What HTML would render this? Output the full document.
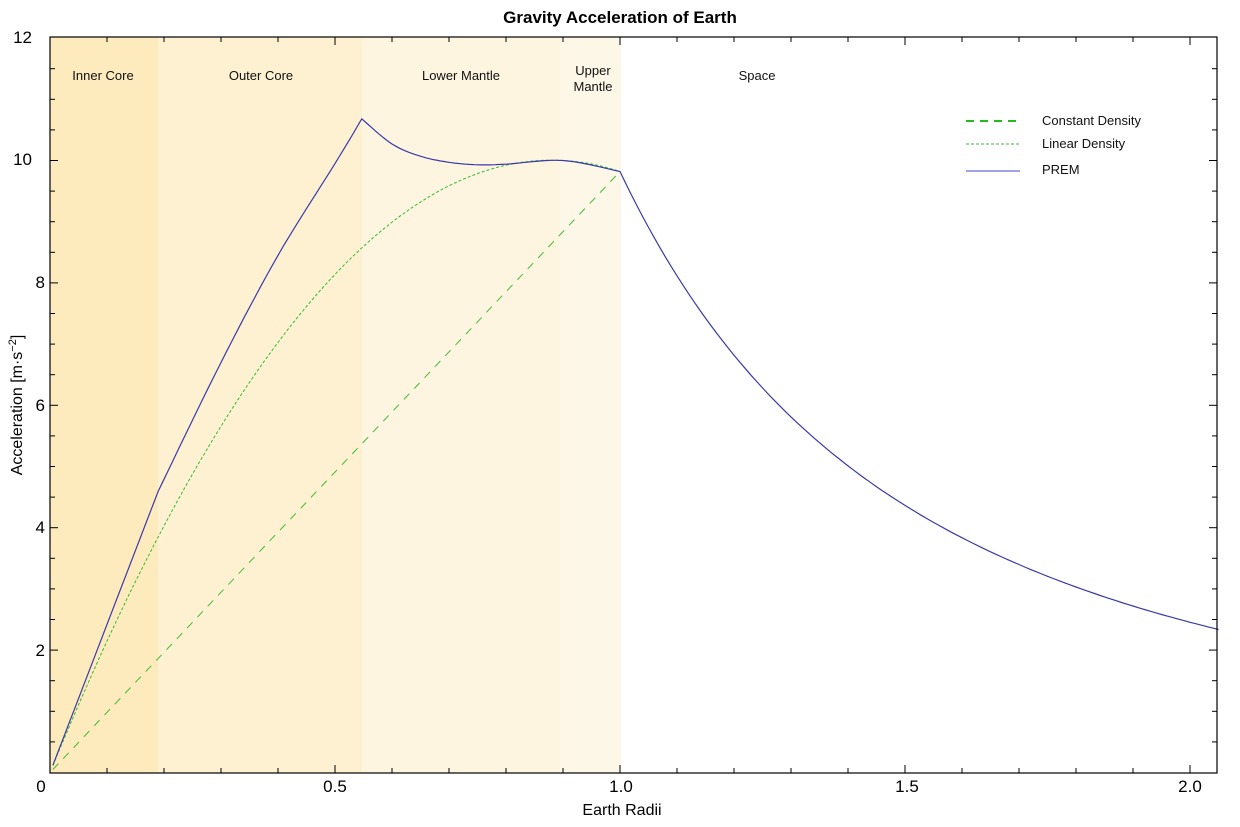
<!DOCTYPE html>
<html><head><meta charset="utf-8"><style>
html,body{margin:0;padding:0;background:#fff;}
svg{display:block;font-family:"Liberation Sans",sans-serif;}
</style></head><body>
<svg id="s" width="1240" height="827" xmlns="http://www.w3.org/2000/svg">
<rect width="1240" height="827" fill="#fff"/>
<rect x="50" y="37" width="108" height="736" fill="#fdebbd"/>
<rect x="158" y="37" width="204" height="736" fill="#fdf1d1"/>
<rect x="362" y="37" width="198" height="736" fill="#fdf5e0"/>
<rect x="560" y="37" width="61" height="736" fill="#fdf7e8"/>
<g font-size="13" text-anchor="middle" fill="#111">
<text x="103" y="80">Inner Core</text>
<text x="261" y="80">Outer Core</text>
<text x="461" y="80">Lower Mantle</text>
<text x="593" y="75">Upper</text>
<text x="593" y="91">Mantle</text>
<text x="757" y="80">Space</text>
</g>
<g id="curves" fill="none"></g>
<g id="ticks" stroke="#000" stroke-width="1"></g>
<rect x="50" y="37" width="1167" height="736" fill="none" stroke="#000" stroke-width="1.2"/>
<g font-size="17" fill="#000">
<text x="32" y="43" text-anchor="end">12</text>
<text x="32" y="165" text-anchor="end">10</text>
<text x="45" y="288" text-anchor="end">8</text>
<text x="45" y="411" text-anchor="end">6</text>
<text x="45" y="533" text-anchor="end">4</text>
<text x="45" y="656" text-anchor="end">2</text>
<text x="41" y="792" text-anchor="middle">0</text>
<text x="335" y="792" text-anchor="middle">0.5</text>
<text x="621" y="792" text-anchor="middle">1.0</text>
<text x="907" y="792" text-anchor="middle">1.5</text>
<text x="1190" y="792" text-anchor="middle">2.0</text>
</g>
<text x="620" y="23" font-size="17" font-weight="bold" text-anchor="middle">Gravity Acceleration of Earth</text>
<text x="622" y="815" font-size="16" text-anchor="middle">Earth Radii</text>
<text transform="translate(22,405) rotate(-90)" font-size="16" text-anchor="middle">Acceleration [m·s<tspan dy="-6" font-size="11">−2</tspan><tspan dy="6">]</tspan></text>
<g font-size="13" fill="#111">
<line x1="966" y1="121" x2="1020" y2="121" stroke="#22bb22" stroke-width="2" stroke-dasharray="8,6"/>
<text x="1042" y="125">Constant Density</text>
<line x1="966" y1="144" x2="1020" y2="144" stroke="#33bb33" stroke-width="1" stroke-dasharray="3,2"/>
<text x="1042" y="148">Linear Density</text>
<line x1="966" y1="171" x2="1020" y2="171" stroke="#4444cc" stroke-width="1"/>
<text x="1042" y="174">PREM</text>
</g>
</svg>
<script>
var X=function(r){return 50+570*r}, Y=function(g){return 772.5-61.2*g};
var ns="http://www.w3.org/2000/svg";
function path(pts,stroke,w,dash){var p=document.createElementNS(ns,"path");
p.setAttribute("d","M"+pts.map(function(a){return X(a[0]).toFixed(1)+","+Y(a[1]).toFixed(1)}).join("L"));
p.setAttribute("stroke",stroke);p.setAttribute("stroke-width",w);if(dash)p.setAttribute("stroke-dasharray",dash);
document.getElementById("curves").appendChild(p);}
function cr(k){var out=[];for(var i=0;i<k.length-1;i++){var p0=k[i-1]||k[i],p1=k[i],p2=k[i+1],p3=k[i+2]||k[i+1];
for(var t=0;t<1;t+=0.1){var t2=t*t,t3=t2*t;var f=function(a,b,c,d){return 0.5*((2*b)+(-a+c)*t+(2*a-5*b+4*c-d)*t2+(-a+3*b-3*c+d)*t3)};
out.push([f(p0[0],p1[0],p2[0],p3[0]),f(p0[1],p1[1],p2[1],p3[1])]);}}out.push(k[k.length-1]);return out;}
var c=[],l=[];
for(var r=0.005;r<=1.0001;r+=0.01){c.push([r,9.82*r]);l.push([r,22.74*r-12.92*r*r]);}
c.push([1,9.82]);l.push([1,9.82]);
path(c,"#44bb33",1,"8,7");
path(l,"#33bb33",1,"3,2");
var pr=[[0.005,0.12],[0.19,4.6]];
pr=pr.concat(cr([[0.19,4.6],[0.3,6.7],[0.4,8.45],[0.5,9.95],[0.547,10.68]]).slice(1));
pr=pr.concat(cr([[0.547,10.68],[0.6,10.27],[0.65,10.07],[0.7,9.97],[0.75,9.93],[0.8,9.94],[0.9,10.0],[1.0,9.82]]).slice(1));
for(var r=1.01;r<=2.05;r+=0.01)pr.push([r,9.82/(r*r)]);
path(pr,"#3a3aaa",1.2);
var t=document.getElementById("ticks"),s="";
for(var i=1;i<=20;i++){var x=X(i*0.1),L=(i%5==0)?8:5;
s+='<line x1="'+x+'" y1="773" x2="'+x+'" y2="'+(773-L)+'"/><line x1="'+x+'" y1="37" x2="'+x+'" y2="'+(37+L)+'"/>';}
for(var j=1;j<24;j++){var y=Y(j*0.5),L=(j%4==0)?8:5;
s+='<line x1="50" y1="'+y+'" x2="'+(50+L)+'" y2="'+y+'"/><line x1="1217" y1="'+y+'" x2="'+(1217-L)+'" y2="'+y+'"/>';}
t.innerHTML=s;
</script>
</body></html>
